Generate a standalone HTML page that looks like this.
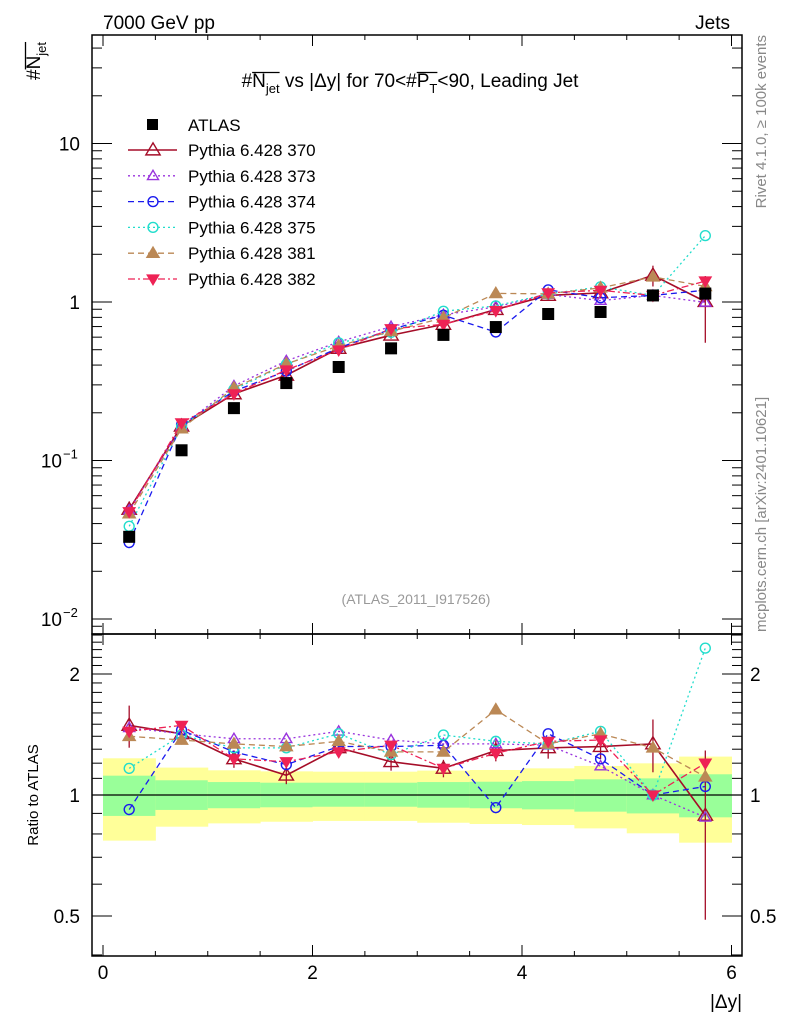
<!DOCTYPE html>
<html><head><meta charset="utf-8">
<style>
html,body{margin:0;padding:0;background:#fff;}
svg{display:block;font-family:"Liberation Sans","DejaVu Sans",sans-serif;}
</style></head>
<body>
<svg id="c" width="786" height="1024" viewBox="0 0 786 1024" xmlns="http://www.w3.org/2000/svg">
<rect x="0" y="0" width="786" height="1024" fill="#fff"/>
<g id="bands"></g>
<g id="plot"></g>
<text x="103" y="29" font-size="19">7000 GeV pp</text>
<text x="730" y="29" font-size="19" text-anchor="end">Jets</text>
<g id="titleg"><text id="title" x="410" y="87" font-size="19" text-anchor="middle">#N<tspan font-size="13" dy="6">jet</tspan><tspan dy="-6"> vs |Δy| for 70&lt;#P</tspan><tspan font-size="13" dy="6">T</tspan><tspan dy="-6">&lt;90, Leading Jet</tspan></text></g>
<g id="ylabg" transform="translate(40,80) rotate(-90)"><text id="ylab" x="0" y="0" font-size="19">#N<tspan font-size="13" dy="6">jet</tspan></text></g>
<text transform="translate(38,795) rotate(-90)" font-size="15" text-anchor="middle">Ratio to ATLAS</text>
<text x="742" y="1008" font-size="19" text-anchor="end">|Δy|</text>
<text transform="translate(766,35) rotate(-90)" font-size="15" fill="#888" text-anchor="end">Rivet 4.1.0, ≥ 100k events</text>
<text transform="translate(766,632) rotate(-90)" font-size="15" fill="#888">mcplots.cern.ch [arXiv:2401.10621]</text>
<text x="416" y="604" font-size="14" fill="#999" text-anchor="middle">(ATLAS_2011_I917526)</text>
<g id="legend"></g>
</svg>
<script>
const xCenters=[0.25,0.75,1.25,1.75,2.25,2.75,3.25,3.75,4.25,4.75,5.25,5.75];
const dataVals=[0.033,0.116,0.214,0.308,0.389,0.51,0.62,0.695,0.84,0.865,1.1,1.13];
const ratio370=[1.49,1.42,1.23,1.12,1.31,1.21,1.165,1.29,1.31,1.32,1.34,0.89];
const ratio373=[1.47,1.42,1.38,1.38,1.44,1.37,1.34,1.34,1.33,1.18,1.0,0.88];
const ratio374=[0.92,1.45,1.28,1.19,1.32,1.32,1.33,0.93,1.42,1.23,1.0,1.05];
const ratio375=[1.165,1.41,1.31,1.31,1.42,1.26,1.41,1.36,1.34,1.44,1.0,2.32];
const ratio381=[1.40,1.37,1.34,1.32,1.36,1.28,1.28,1.63,1.34,1.42,1.31,1.11];
const ratio382=[1.44,1.49,1.23,1.21,1.28,1.33,1.165,1.27,1.36,1.37,1.0,1.2];
const err370=[0.12,0.06,0.05,0.05,0.05,0.05,0.05,0.06,0.06,0.07,0.15,0.45];
const yellowUp=[1.234,1.17,1.152,1.145,1.143,1.143,1.15,1.154,1.165,1.181,1.199,1.246];
const yellowDn=[0.77,0.834,0.85,0.858,0.862,0.862,0.853,0.847,0.842,0.826,0.803,0.761];
const greenUp=[1.117,1.088,1.077,1.073,1.073,1.073,1.077,1.079,1.083,1.094,1.1,1.126];
const greenDn=[0.887,0.918,0.927,0.932,0.935,0.935,0.93,0.927,0.921,0.909,0.9,0.88];
const xTicks=[0,2,4,6];
const ratioTicks=[0.5,1,2];

const NS="http://www.w3.org/2000/svg";
const X0=92,X1=742,T0=35,T1=634,R0=634,R1=956;
const xs=v=>103+v*104.75;
const ys=v=>302-158.5*Math.log10(v);
const yr=v=>795-121*Math.log2(v);
function mk(tag,attrs,parent){const e=document.createElementNS(NS,tag);for(const k in attrs)e.setAttribute(k,attrs[k]);(parent||document.getElementById('plot')).appendChild(e);return e;}

// overlines
function overline(textEl,group,i0,i1){
  const a=textEl.getExtentOfChar(i0), b=textEl.getExtentOfChar(i1);
  mk('line',{x1:a.x,x2:b.x+b.width,y1:a.y+1.5,y2:a.y+1.5,stroke:'#000','stroke-width':1.3},group);
}
const tt=document.getElementById('title'), tg=document.getElementById('titleg');
overline(tt,tg,1,4); overline(tt,tg,22,23);
overline(document.getElementById('ylab'),document.getElementById('ylabg'),1,4);

const bg=document.getElementById('bands');
xCenters.forEach((c,i)=>{
  const a=xs(c-0.25),b=xs(c+0.25);
  const y=mk('rect',{x:a,y:yr(yellowUp[i]),width:b-a+0.5,height:yr(yellowDn[i])-yr(yellowUp[i]),fill:'#ffff99'},bg);
  
  
  const g=mk('rect',{x:a,y:yr(greenUp[i]),width:b-a+0.5,height:yr(greenDn[i])-yr(greenUp[i]),fill:'#99ff99'},bg);
  
  
});
mk('line',{x1:X0,x2:X1,y1:yr(1),y2:yr(1),stroke:'#000','stroke-width':1.3});

const f1=mk('rect',{x:X0,y:T0,width:X1-X0,height:T1-T0,fill:'none',stroke:'#000','stroke-width':1.5});


const f2=mk('rect',{x:X0,y:R0,width:X1-X0,height:R1-R0,fill:'none',stroke:'#000','stroke-width':1.5});



for(let v=0;v<=6.01;v+=0.5){
  const maj=Math.abs(v-Math.round(v/2)*2)<1e-6;
  const L=maj?11:5;
  [[T0,1],[T1,-1],[R0,1],[R1,-1]].forEach(([y,d])=>mk('line',{x1:xs(v),x2:xs(v),y1:y,y2:y+d*L,stroke:'#000','stroke-width':1}));
}
xTicks.forEach(v=>{const t=mk('text',{x:xs(v),y:979,'font-size':19,'text-anchor':'middle'});t.textContent=v;

});

for(let d=-3;d<=1;d++){for(let m=1;m<=9;m++){const v=m*Math.pow(10,d);const y=ys(v);if(y<T0||y>T1)continue;const L=m==1?20:10;
mk('line',{x1:X0,x2:X0+L,y1:y,y2:y,stroke:'#000'});mk('line',{x1:X1,x2:X1-L,y1:y,y2:y,stroke:'#000'});}}
[[10,'10'],[1,'1']].forEach(([v,s])=>{const t=mk('text',{x:80,y:ys(v)+7,'font-size':19,'text-anchor':'end'});t.textContent=s;

});
[[0.1,'−1'],[0.01,'−2']].forEach(([v,s])=>{const t=mk('text',{x:62,y:ys(v)+7,'font-size':19,'text-anchor':'end'});t.textContent='10';


const e=mk('text',{x:63,y:ys(v)-2,'font-size':13});e.textContent=s;});

for(let k=4;k<=25;k++){const v=k/10;const y=yr(v);if(y<R0||y>R1)continue;const maj=(k==5||k==10||k==20);const L=maj?20:10;
mk('line',{x1:X0,x2:X0+L,y1:y,y2:y,stroke:'#000'});mk('line',{x1:X1,x2:X1-L,y1:y,y2:y,stroke:'#000'});}
ratioTicks.forEach(v=>{const t=mk('text',{x:80,y:yr(v)+7,'font-size':19,'text-anchor':'end'});t.textContent=v;


const t2=mk('text',{x:750,y:yr(v)+7,'font-size':19});t2.textContent=v;

});

function marker(shape,x,y,col,parent,s){
  s=s||6;
  if(shape=='tri'||shape=='triF') return mk('path',{d:`M${x},${y-s*1.1}L${x+s*1.1},${y+s*0.75}L${x-s*1.1},${y+s*0.75}Z`,fill:shape=='triF'?col:'#fff','fill-opacity':shape=='triF'?1:0,stroke:col,'stroke-width':1.4},parent);
  if(shape=='triD') return mk('path',{d:`M${x},${y+s*1.1}L${x+s*1.1},${y-s*0.75}L${x-s*1.1},${y-s*0.75}Z`,fill:col,stroke:col},parent);
  if(shape=='circ') return mk('circle',{cx:x,cy:y,r:s*0.9,fill:'none',stroke:col,'stroke-width':1.4},parent);
  if(shape=='sq') return mk('rect',{x:x-6,y:y-6,width:12,height:12,fill:'#000'},parent);
}
const series=[
 {name:'370',r:ratio370,col:'#a50d28',dash:'',shape:'tri',w:1.6,s:6.5},
 {name:'373',r:ratio373,col:'#9933dd',dash:'2,3',shape:'tri',w:1.3,s:5},
 {name:'374',r:ratio374,col:'#1a1aee',dash:'6,4',shape:'circ',w:1.3,s:5.5},
 {name:'375',r:ratio375,col:'#22ddcc',dash:'2,3',shape:'circ',w:1.3,s:5.5},
 {name:'381',r:ratio381,col:'#bb8855',dash:'6,4',shape:'triF',w:1.3,s:5.5},
 {name:'382',r:ratio382,col:'#ee2255',dash:'7,3,2,3',shape:'triD',w:1.3,s:5.5}
];
series.forEach(S=>{
  const g=mk('g',{});
  
  
  const pts=xCenters.map((c,i)=>[xs(c),ys(dataVals[i]*S.r[i])]);
  const rpts=xCenters.map((c,i)=>[xs(c),yr(S.r[i])]);
  mk('polyline',{points:pts.map(p=>p.join(',')).join(' '),fill:'none',stroke:S.col,'stroke-width':S.w,'stroke-dasharray':S.dash},g);
  mk('polyline',{points:rpts.map(p=>p.join(',')).join(' '),fill:'none',stroke:S.col,'stroke-width':S.w,'stroke-dasharray':S.dash},g);
  xCenters.forEach((c,i)=>{
    if(S.name=='370'){
      const e=err370[i];
      mk('line',{x1:xs(c),x2:xs(c),y1:yr(S.r[i]*(1+e)),y2:yr(Math.max(0.4,S.r[i]*(1-e))),stroke:S.col,'stroke-width':1.3},g);
      mk('line',{x1:xs(c),x2:xs(c),y1:ys(dataVals[i]*S.r[i]*(1+e)),y2:ys(dataVals[i]*S.r[i]*(1-e)),stroke:S.col,'stroke-width':1.3},g);
    }
    const m1=marker(S.shape,pts[i][0],pts[i][1],S.col,g,S.s);
    
    
    const m2=marker(S.shape,rpts[i][0],rpts[i][1],S.col,g,S.s);
    
    
  });
});
xCenters.forEach((c,i)=>{const m=marker('sq',xs(c),ys(dataVals[i]),'#000');

});

const lg=document.getElementById('legend');
mk('rect',{x:147,y:119,width:11,height:11,fill:'#000'},lg);
const lt0=mk('text',{x:188,y:131,'font-size':17},lg);lt0.textContent='ATLAS';


series.forEach((S,k)=>{
  const y=150+k*25.8;
  mk('line',{x1:128,x2:177,y1:y,y2:y,stroke:S.col,'stroke-width':S.w,'stroke-dasharray':S.dash},lg);
  marker(S.shape,153,y,S.col,lg,S.s);
  const t=mk('text',{x:188,y:y+6,'font-size':17},lg);t.textContent='Pythia 6.428 '+S.name;
  
  
});
</script>
</body></html>
